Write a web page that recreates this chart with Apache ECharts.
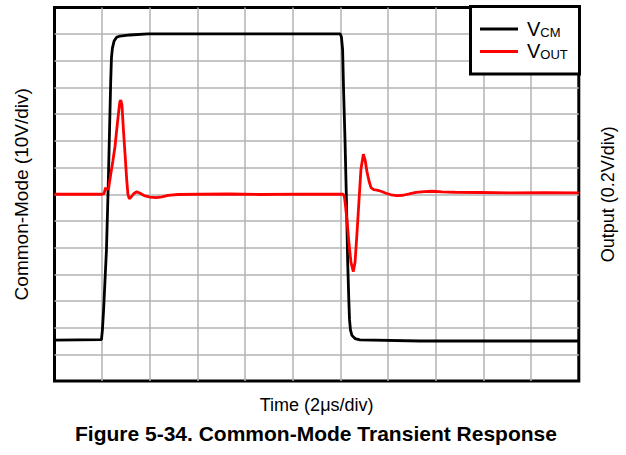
<!DOCTYPE html>
<html>
<head>
<meta charset="utf-8">
<title>Common-Mode Transient Response</title>
<script src="https://cdn.jsdelivr.net/npm/echarts@6/dist/echarts.min.js"></script>
<style>
  html, body { margin: 0; padding: 0; background: #fff; }
  #chart { width: 626px; height: 455px; }
</style>
</head>
<body>
<div id="chart"></div>
<script>
// Common-mode input step (left axis, volts) against time in microseconds
const vcmTime = [0, 1.97, 2.01, 2.06, 2.12, 2.18, 2.25, 2.31, 2.36, 2.39, 2.43, 2.50, 2.60, 2.75, 3.17, 3.92,
  11.99, 12.04, 12.09, 12.13, 12.19, 12.25, 12.30, 12.35, 12.38, 12.42, 12.48, 12.61, 12.82, 15.34, 22.0];
const vcmVolts = [-54.7, -54.5, -50.9, -43.4, -32.1, -20.9, 1.6, 24.1, 42.8, 51.1, 54.8, 57.4, 58.8, 59.3, 59.7, 60.1,
  60.1, 58.9, 54.1, 39.0, 20.3, -2.2, -24.7, -39.7, -47.1, -50.9, -52.9, -54.1, -54.6, -55.0, -55.0];

// Amplifier output response (right axis, volts) against time in microseconds
const voutTime = [0, 1.99, 2.08, 2.14, 2.20, 2.27, 2.36, 2.45, 2.54, 2.62, 2.69, 2.74, 2.78, 2.83, 2.89, 2.96,
  3.03, 3.08, 3.14, 3.21, 3.32, 3.45, 3.59, 3.76, 4.01, 4.26, 4.51, 4.76, 5.18, 6.11, 7.36, 8.62, 10.30,
  12.11, 12.16, 12.20, 12.27, 12.36, 12.44, 12.54, 12.61, 12.69, 12.78, 12.86, 12.96, 13.03, 13.11, 13.20,
  13.28, 13.39, 13.53, 13.70, 13.91, 14.12, 14.37, 14.63, 14.88, 15.17, 15.51, 15.84, 16.26, 16.81, 17.86,
  19.11, 20.58, 22.0];
const voutVolts = [0, 0, 0.005, 0.049, 0.034, 0.045, 0.15, 0.25, 0.36, 0.50, 0.615, 0.69, 0.705, 0.67, 0.49, 0.30,
  0.11, 0, -0.034, -0.0225, 0.004, 0.019, 0.0075, -0.01, -0.021, -0.025, -0.0195, -0.009, -0.002, 0, 0.002, -0.002, 0.0015,
  0, -0.015, -0.0675, -0.19, -0.375, -0.51, -0.58, -0.51, -0.30, -0.0375, 0.19, 0.30, 0.26, 0.17, 0.0975,
  0.049, 0.035, 0.0315, 0.0225, 0.0075, -0.004, -0.011, -0.0075, 0.002, 0.0135, 0.020, 0.0225, 0.018, 0.015, 0.013,
  0.0105, 0.012, 0.011];

const seriesNames = ['VCM', 'VOUT'];
const legendSub = { VCM: 'CM', VOUT: 'OUT' };

const xAxisTitle = 'Time (2\u03bcs/div)';
const leftAxisTitle = 'Common-Mode (10V/div)';
const rightAxisTitle = 'Output (0.2V/div)';
const caption = 'Figure 5-34. Common-Mode Transient Response';

const zip = (xs, ys) => xs.map((x, i) => [x, ys[i]]);

const FONT = "'Liberation Sans', Arial, Helvetica, sans-serif";
const gridLine = { show: true, showMinLine: false, showMaxLine: false, lineStyle: { color: '#b3b3b3', width: 1.5 } };

const chart = echarts.init(document.getElementById('chart'), null, { renderer: 'svg' });
chart.setOption({
  backgroundColor: '#fff',
  animation: false,
  textStyle: { fontFamily: FONT, color: '#000' },
  title: {
    text: caption,
    left: 75,
    top: 423,
    padding: 0,
    textStyle: { fontFamily: FONT, fontSize: 21, fontWeight: 'bold', color: '#000' }
  },
  grid: {
    left: 54.5, top: 7.5, right: 47.2, bottom: 74,
    show: true, borderColor: '#000', borderWidth: 3, backgroundColor: '#fff',
    containLabel: false
  },
  xAxis: {
    type: 'value', min: 0, max: 22, interval: 2,
    name: xAxisTitle, nameLocation: 'middle', nameGap: 14.5,
    nameTextStyle: { fontFamily: FONT, fontSize: 18, color: '#000' },
    axisLine: { show: false }, axisTick: { show: false }, axisLabel: { show: false },
    splitLine: gridLine
  },
  yAxis: [
    {
      type: 'value', min: -70, max: 70, interval: 10, position: 'left',
      name: leftAxisTitle, nameLocation: 'middle', nameGap: 24,
      nameTextStyle: { fontFamily: FONT, fontSize: 19, color: '#000' },
      axisLine: { show: false }, axisTick: { show: false }, axisLabel: { show: false },
      splitLine: gridLine
    },
    {
      type: 'value', min: -1.4, max: 1.4, interval: 0.2, position: 'right',
      name: rightAxisTitle, nameLocation: 'middle', nameGap: 20,
      nameTextStyle: { fontFamily: FONT, fontSize: 18, color: '#000' },
      axisLine: { show: false }, axisTick: { show: false }, axisLabel: { show: false },
      splitLine: { show: false }
    }
  ],
  graphic: [{
    type: 'rect', z: 50,
    shape: { x: 470.5, y: 6.5, width: 109, height: 67.5 },
    style: { fill: '#fff', stroke: '#000', lineWidth: 3 }
  }],
  legend: {
    orient: 'vertical', left: 480, top: 19, padding: 0, z: 60,
    itemWidth: 38, itemHeight: 3, itemGap: 2.4, icon: 'rect',
    data: seriesNames,
    formatter: name => '{v|V}{s|' + legendSub[name] + '}',
    textStyle: {
      fontFamily: FONT, color: '#000',
      rich: {
        v: { fontFamily: FONT, fontSize: 20, lineHeight: 20, verticalAlign: 'bottom', padding: [0, 0, 0, 4], color: '#000' },
        s: { fontFamily: FONT, fontSize: 13, lineHeight: 13, verticalAlign: 'bottom', color: '#000' }
      }
    }
  },
  series: [
    {
      name: seriesNames[0], type: 'line', yAxisIndex: 0, showSymbol: false, symbol: 'none',
      color: '#000', lineStyle: { color: '#000', width: 2.8 },
      data: zip(vcmTime, vcmVolts), z: 3
    },
    {
      name: seriesNames[1], type: 'line', yAxisIndex: 1, showSymbol: false, symbol: 'none',
      color: '#ff0000', lineStyle: { color: '#ff0000', width: 2.8 },
      data: zip(voutTime, voutVolts), z: 4
    }
  ]
});
</script>
</body>
</html>
